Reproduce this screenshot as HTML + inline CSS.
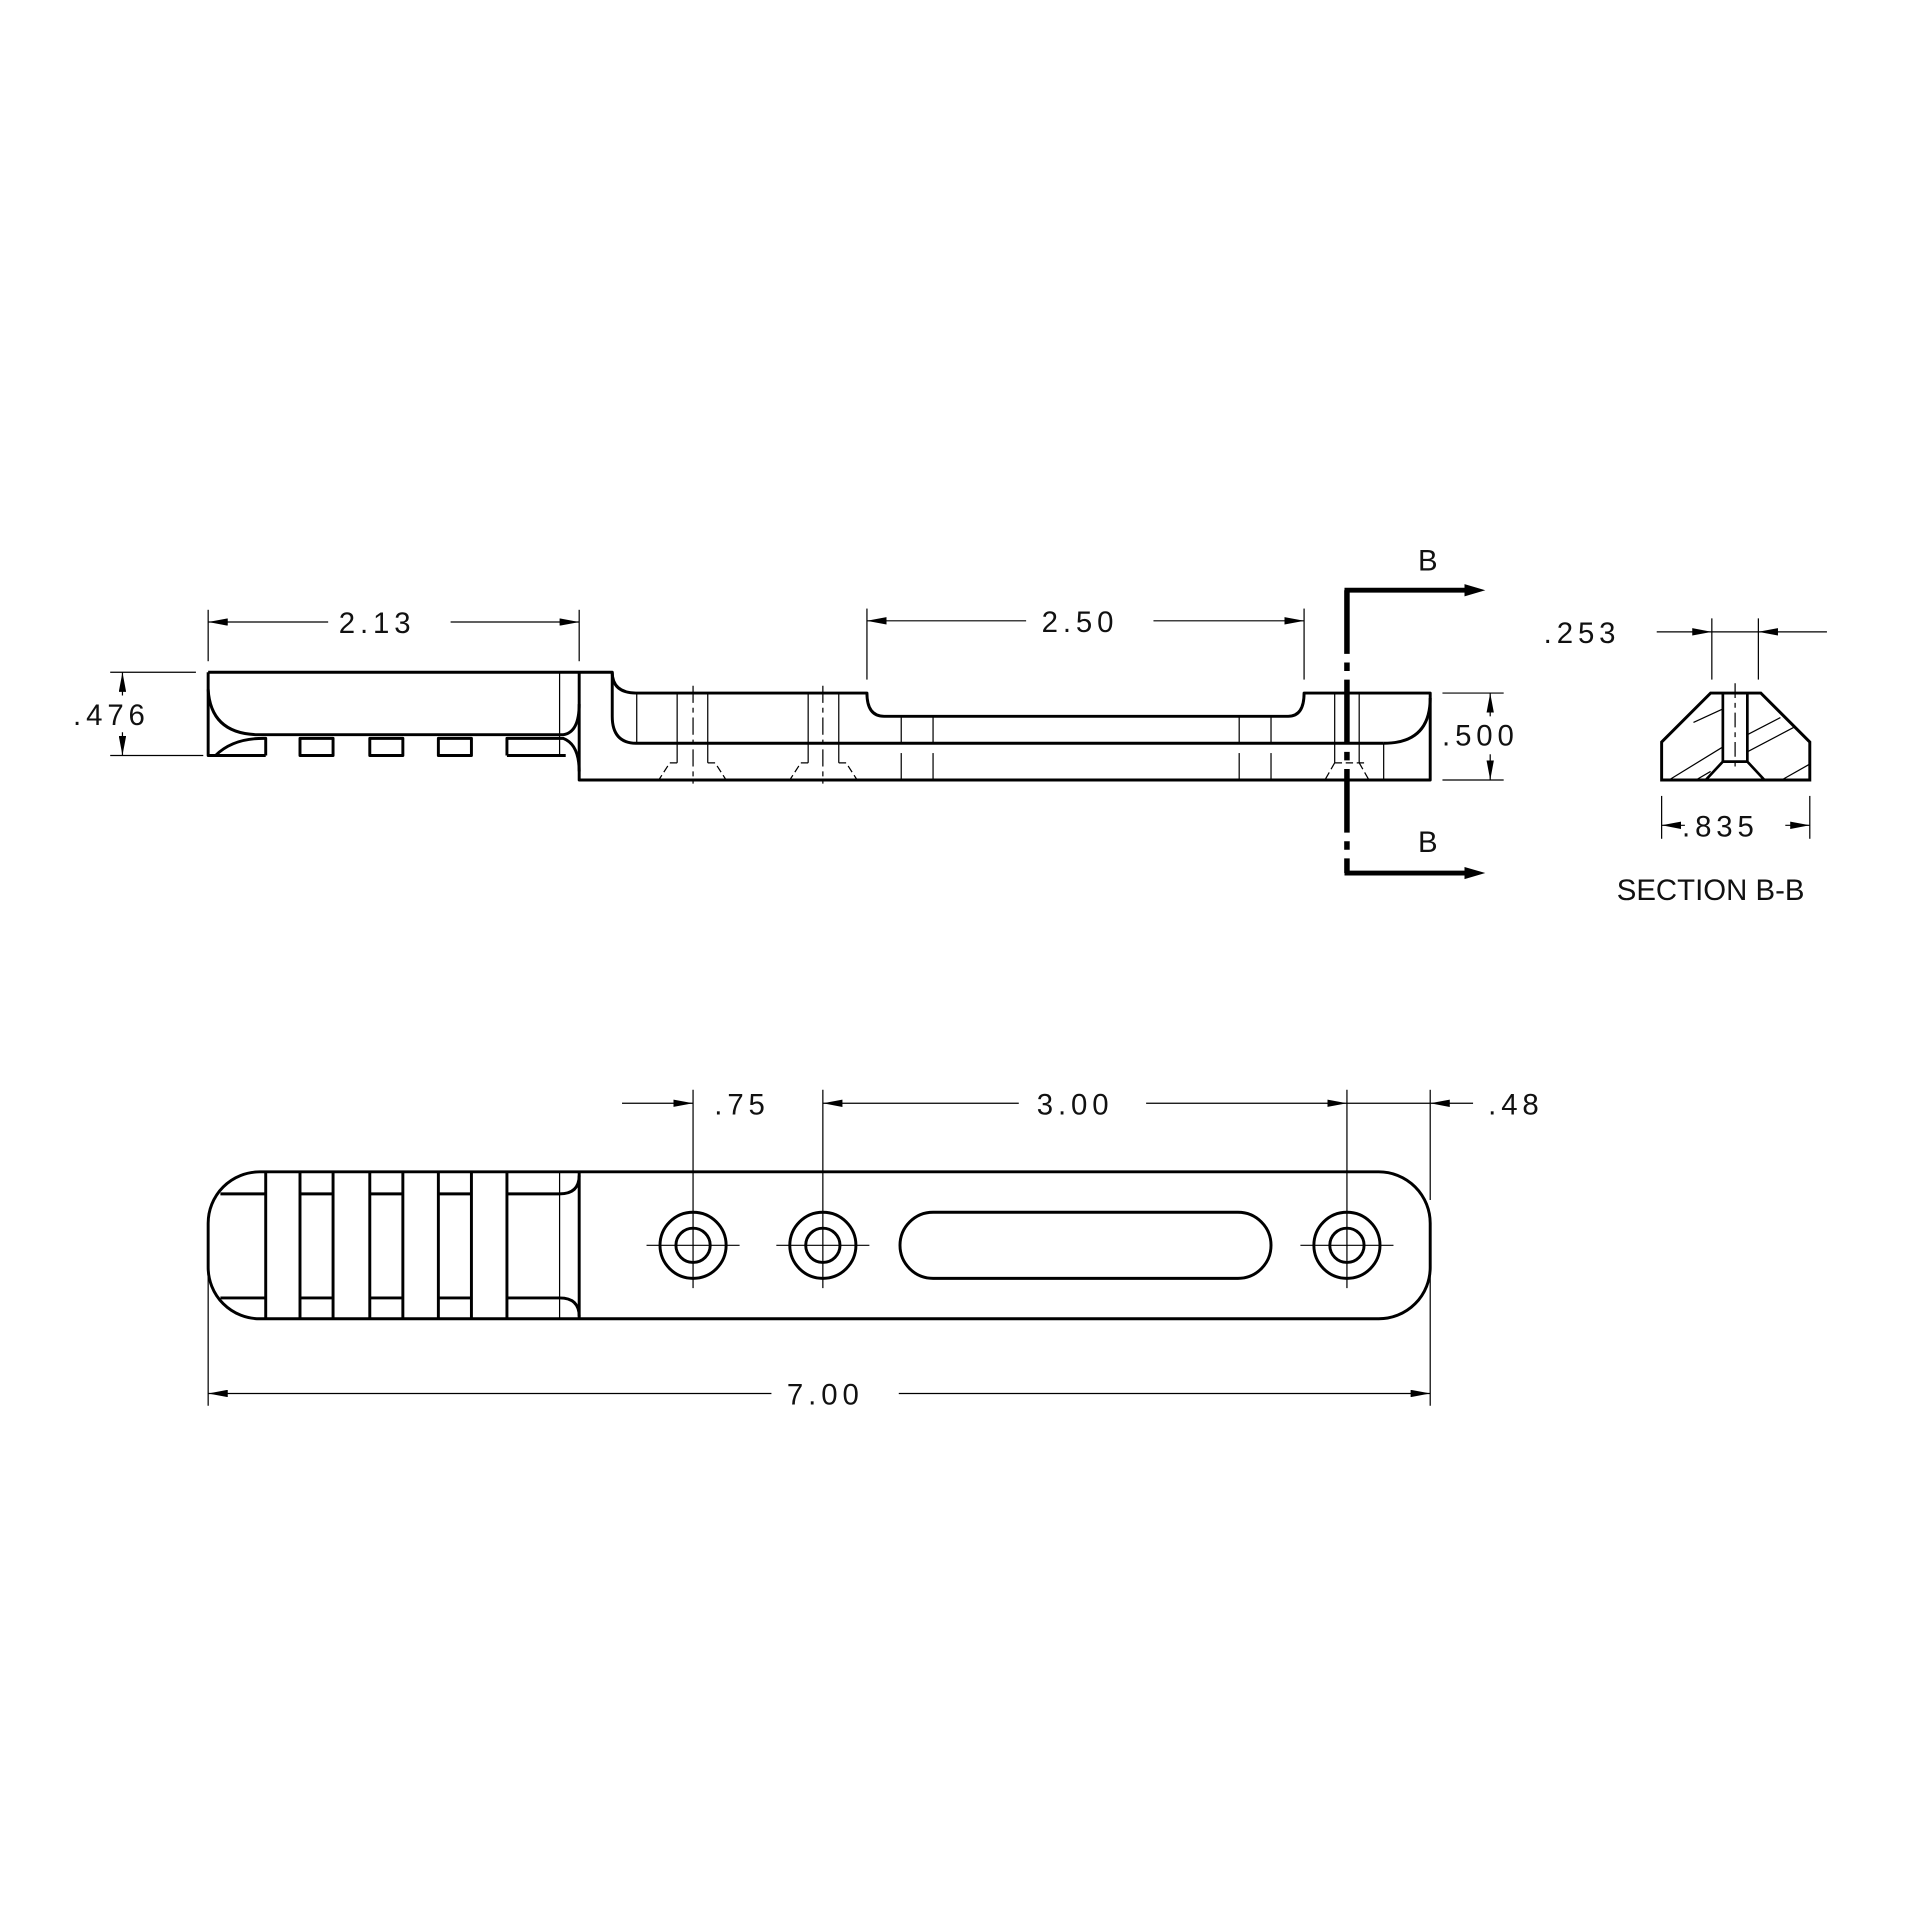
<!DOCTYPE html>
<html><head><meta charset="utf-8"><style>
html,body{margin:0;padding:0;background:#fff;}
svg{display:block;}
text{font-family:"Liberation Sans",sans-serif;fill:#111;}
.d{font-size:24px;letter-spacing:4px;}
</style></head><body>
<svg width="1920" height="1920" viewBox="0 0 1568 1568" xmlns="http://www.w3.org/2000/svg">
<defs>
<marker id="a" viewBox="0 0 16 6" refX="16" refY="3" markerWidth="16" markerHeight="6" markerUnits="userSpaceOnUse" orient="auto-start-reverse"><path d="M0,0 L16,3 L0,6 z" fill="#000"/></marker>
</defs>
<rect width="1568" height="1568" fill="#fff"/>

<!-- ===== SIDE VIEW ===== -->
<g fill="none" stroke="#000" stroke-width="2.4" stroke-linejoin="round">
<path d="M170,549 L500,549 Q500,566 520,566 L708,566 Q708,585 722,585 L1052,585 Q1065,585 1065,566 L1168,566 L1168,637 L473,637 L473,549"/>
<path d="M170,549 L170,617 L217,617"/>
<path d="M500,549 L500,585 Q500,607 520,607 L1130,607"/>
<path d="M1168,570 Q1168,607 1130,607"/>
<path d="M170,563 Q172,599 210,600 L460,600 Q473,598 473,575"/>
<!-- teeth -->
<path d="M176,617 Q190,603 215,603 L217,603 L217,617"/>
<path d="M245,603 L272,603 L272,617 L245,617 Z"/>
<path d="M302,603 L329,603 L329,617 L302,617 Z"/>
<path d="M358,603 L385,603 L385,617 L358,617 Z"/>
<path d="M414,617 L414,603 L460,603 Q473,608 473,630 M414,617 L462,617"/>
</g>
<g fill="none" stroke="#000" stroke-width="1">
<line x1="457" y1="549" x2="457" y2="617"/>
<line x1="520" y1="566" x2="520" y2="607"/>
<line x1="553" y1="566" x2="553" y2="623"/><line x1="578" y1="566" x2="578" y2="623"/>
<line x1="660" y1="566" x2="660" y2="623"/><line x1="685" y1="566" x2="685" y2="623"/>
<line x1="566" y1="560" x2="566" y2="640" stroke-dasharray="14,4,4,4"/>
<line x1="672" y1="560" x2="672" y2="640" stroke-dasharray="14,4,4,4"/>
<path d="M553,623 L547,623 L538,637 M578,623 L584,623 L593,637" stroke-dasharray="6,3"/>
<path d="M660,623 L654,623 L645,637 M685,623 L691,623 L700,637" stroke-dasharray="6,3"/>
<line x1="736" y1="585" x2="736" y2="607"/><line x1="762" y1="585" x2="762" y2="607"/>
<line x1="736" y1="615" x2="736" y2="637"/><line x1="762" y1="615" x2="762" y2="637"/>
<line x1="1012" y1="585" x2="1012" y2="607"/><line x1="1038" y1="585" x2="1038" y2="607"/>
<line x1="1012" y1="615" x2="1012" y2="637"/><line x1="1038" y1="615" x2="1038" y2="637"/>
<line x1="1090" y1="566" x2="1090" y2="623"/><line x1="1110" y1="566" x2="1110" y2="623"/>
<path d="M1090,623 L1116,623 M1090,623 L1082,637 M1110,623 L1118,637" stroke-dasharray="6,3"/>
<line x1="1130" y1="607" x2="1130" y2="637"/>
<line x1="170" y1="498" x2="170" y2="540"/><line x1="473" y1="498" x2="473" y2="540"/>
<line x1="170" y1="508" x2="268" y2="508" marker-start="url(#a)"/>
<line x1="368" y1="508" x2="473" y2="508" marker-end="url(#a)"/>
<line x1="708" y1="497" x2="708" y2="555"/><line x1="1065" y1="497" x2="1065" y2="555"/>
<line x1="708" y1="507" x2="838" y2="507" marker-start="url(#a)"/>
<line x1="942" y1="507" x2="1065" y2="507" marker-end="url(#a)"/>
<line x1="90" y1="549" x2="160" y2="549"/><line x1="90" y1="617" x2="166" y2="617"/>
<line x1="100" y1="549" x2="100" y2="568" marker-start="url(#a)"/>
<line x1="100" y1="598" x2="100" y2="617" marker-end="url(#a)"/>
<line x1="1178" y1="566" x2="1228" y2="566"/><line x1="1178" y1="637" x2="1228" y2="637"/>
<line x1="1217" y1="566" x2="1217" y2="585" marker-start="url(#a)"/>
<line x1="1217" y1="616" x2="1217" y2="637" marker-end="url(#a)"/>
</g>
<text class="d" x="308" y="517" text-anchor="middle">2.13</text>
<text class="d" x="882" y="516" text-anchor="middle">2.50</text>
<text class="d" x="91" y="592" text-anchor="middle">.476</text>
<text class="d" x="1209" y="609" text-anchor="middle">.500</text>

<g stroke="#000" fill="none">
<line x1="1100" y1="482" x2="1100" y2="713" stroke-width="4.5" stroke-dasharray="52,7,7,7"/>
<line x1="1098" y1="482" x2="1198" y2="482" stroke-width="4"/>
<line x1="1098" y1="713" x2="1198" y2="713" stroke-width="4"/>
</g>
<path d="M1196,477 L1213,482 L1196,487 z"/><path d="M1196,708 L1213,713 L1196,718 z"/>
<text x="1166" y="466" font-size="24" text-anchor="middle">B</text>
<text x="1166" y="696" font-size="24" text-anchor="middle">B</text>

<g fill="none" stroke="#000">
<path d="M1397,566 L1438,566 L1478,606 L1478,637 L1357,637 L1357,606 Z" stroke-width="2.4"/>
<path d="M1407,566 L1407,622 L1427,622 L1427,566 M1407,622 L1393,637 M1427,622 L1441,637" stroke-width="2.2"/>
<line x1="1417" y1="558" x2="1417" y2="630" stroke-width="1" stroke-dasharray="12,4,4,4"/>
<g stroke-width="1">
<line x1="1383" y1="590" x2="1407" y2="579"/>
<line x1="1363" y1="637" x2="1407" y2="610"/>
<line x1="1385" y1="637" x2="1397" y2="630"/>
<line x1="1427" y1="600" x2="1454" y2="586"/>
<line x1="1427" y1="614" x2="1465" y2="594"/>
<line x1="1455" y1="637" x2="1478" y2="624"/>
<line x1="1398" y1="505" x2="1398" y2="555"/><line x1="1436" y1="505" x2="1436" y2="555"/>
<line x1="1353" y1="516" x2="1398" y2="516" marker-end="url(#a)"/>
<line x1="1398" y1="516" x2="1436" y2="516"/>
<line x1="1492" y1="516" x2="1436" y2="516" marker-end="url(#a)"/>
<line x1="1357" y1="650" x2="1357" y2="685"/><line x1="1478" y1="650" x2="1478" y2="685"/>
<line x1="1376" y1="674" x2="1357" y2="674" marker-end="url(#a)"/>
<line x1="1458" y1="674" x2="1478" y2="674" marker-end="url(#a)"/>
</g>
</g>
<text class="d" x="1292" y="525" text-anchor="middle">.253</text>
<text class="d" x="1405" y="683" text-anchor="middle">.835</text>
<text x="1397" y="735" font-size="24" text-anchor="middle">SECTION B-B</text>

<!-- ===== TOP VIEW ===== -->
<g fill="none" stroke="#000" stroke-width="2.4">
<rect x="170" y="957" width="998" height="120" rx="42" ry="42"/>
<path d="M217,957 V1077 M245,957 V1077 M272,957 V1077 M302,957 V1077 M329,957 V1077 M358,957 V1077 M385,957 V1077 M414,957 V1077 M473,957 V1077"/>
<path d="M180,975 H217 M245,975 H272 M302,975 H329 M358,975 H385 M414,975 H457 Q473,975 473,960"/>
<path d="M180,1060 H217 M245,1060 H272 M302,1060 H329 M358,1060 H385 M414,1060 H457 Q473,1060 473,1075"/>
<circle cx="566" cy="1017" r="27"/><circle cx="566" cy="1017" r="14"/>
<circle cx="672" cy="1017" r="27"/><circle cx="672" cy="1017" r="14"/>
<circle cx="1100" cy="1017" r="27"/><circle cx="1100" cy="1017" r="14"/>
<rect x="735" y="990" width="303" height="54" rx="27" ry="27"/>
</g>
<g fill="none" stroke="#000" stroke-width="1">
<line x1="457" y1="957" x2="457" y2="1077"/>
<line x1="528" y1="1017" x2="604" y2="1017"/><line x1="634" y1="1017" x2="710" y2="1017"/><line x1="1062" y1="1017" x2="1138" y2="1017"/>
<line x1="566" y1="890" x2="566" y2="1052"/><line x1="672" y1="890" x2="672" y2="1052"/><line x1="1100" y1="890" x2="1100" y2="1052"/>
<line x1="1168" y1="890" x2="1168" y2="980"/>
<line x1="508" y1="901" x2="566" y2="901" marker-end="url(#a)"/>
<line x1="672" y1="901" x2="832" y2="901" marker-start="url(#a)"/>
<line x1="936" y1="901" x2="1100" y2="901" marker-end="url(#a)"/>
<line x1="1100" y1="901" x2="1168" y2="901"/>
<line x1="1203" y1="901" x2="1168" y2="901" marker-end="url(#a)"/>
<line x1="170" y1="1040" x2="170" y2="1148"/><line x1="1168" y1="1040" x2="1168" y2="1148"/>
<line x1="170" y1="1138" x2="630" y2="1138" marker-start="url(#a)"/>
<line x1="734" y1="1138" x2="1168" y2="1138" marker-end="url(#a)"/>
</g>
<text class="d" x="606" y="910" text-anchor="middle">.75</text>
<text class="d" x="878" y="910" text-anchor="middle">3.00</text>
<text class="d" x="1238" y="910" text-anchor="middle">.48</text>
<text class="d" x="674" y="1147" text-anchor="middle">7.00</text>
</svg>
</body></html>
